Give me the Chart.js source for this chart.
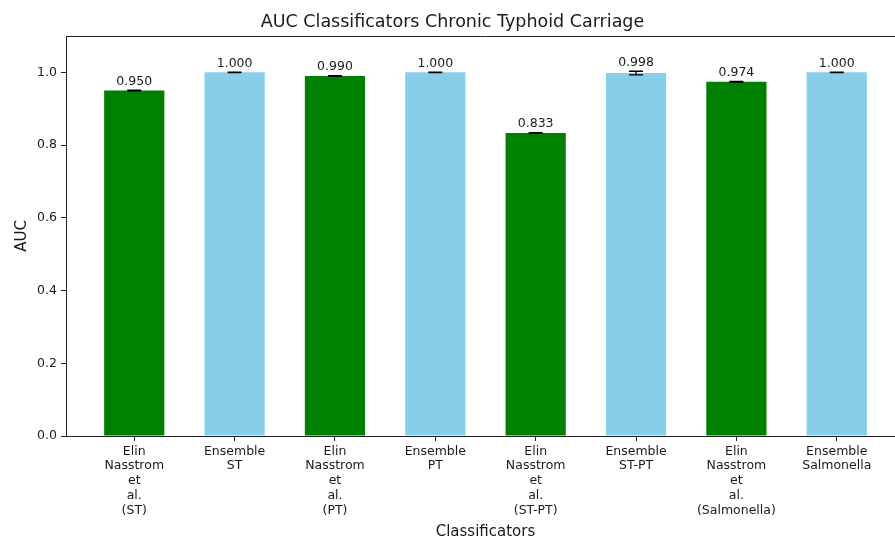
<!DOCTYPE html>
<html>
<head>
<meta charset="utf-8">
<script src="https://cdn.jsdelivr.net/npm/chart.js@4.4.1/dist/chart.umd.min.js"></script>
<style>
  html, body { margin: 0; padding: 0; background: #fff; overflow: hidden; }
  #wrap { width: 910px; height: 538px; position: relative; }
</style>
</head>
<body>
<div id="wrap"><canvas id="c"></canvas></div>
<script>
// Classifier names (multi-line tick labels)
const categories = [
  ["Elin", "Nasstrom", "et", "al.", "(ST)"],
  ["Ensemble", "ST"],
  ["Elin", "Nasstrom", "et", "al.", "(PT)"],
  ["Ensemble", "PT"],
  ["Elin", "Nasstrom", "et", "al.", "(ST-PT)"],
  ["Ensemble", "ST-PT"],
  ["Elin", "Nasstrom", "et", "al.", "(Salmonella)"],
  ["Ensemble", "Salmonella"]
];
// Mean AUC per classifier
const aucValues = [0.950, 1.000, 0.990, 1.000, 0.833, 0.998, 0.974, 1.000];
// Standard deviation of AUC
const aucErrors = [0.001, 0.0005, 0.001, 0.0005, 0.001, 0.005, 0.001, 0.0005];
// Y axis tick values
const yTicks = [0.0, 0.2, 0.4, 0.6, 0.8, 1.0];

const GREEN = '#008000';
const SKY = '#87CEEB';
const FONT = 'DejaVu Sans';
const INK = '#1a1a1a';

const barColors = aucValues.map((_, i) => (i % 2 === 0 ? GREEN : SKY));

// Error bars with caps plus value labels above each bar
const errorBarPlugin = {
  id: 'errorBars',
  afterDatasetsDraw(chart) {
    const { ctx, scales: { x, y } } = chart;
    ctx.save();
    ctx.strokeStyle = '#000';
    ctx.lineWidth = 1.3;
    aucValues.forEach((v, i) => {
      const px = x.getPixelForValue(i);
      const yHi = y.getPixelForValue(v + aucErrors[i]);
      const yLo = y.getPixelForValue(v - aucErrors[i]);
      ctx.beginPath();
      ctx.moveTo(px, yHi); ctx.lineTo(px, yLo);
      ctx.moveTo(px - 7, yHi); ctx.lineTo(px + 7, yHi);
      ctx.moveTo(px - 7, yLo); ctx.lineTo(px + 7, yLo);
      ctx.stroke();
      ctx.fillStyle = INK;
      ctx.font = '12.5px "' + FONT + '"';
      ctx.textAlign = 'center';
      ctx.textBaseline = 'alphabetic';
      ctx.fillText(v.toFixed(3), px, yHi - 5.5);
    });
    ctx.restore();
  }
};

// Top frame line of the plot area
const topSpinePlugin = {
  id: 'topSpine',
  afterDraw(chart) {
    const { ctx, chartArea } = chart;
    ctx.save();
    ctx.strokeStyle = '#222';
    ctx.lineWidth = 1;
    ctx.beginPath();
    ctx.moveTo(chartArea.left, Math.round(chartArea.top) + 0.5);
    ctx.lineTo(chartArea.right, Math.round(chartArea.top) + 0.5);
    ctx.stroke();
    ctx.restore();
  }
};

new Chart(document.getElementById('c'), {
  type: 'bar',
  data: {
    datasets: [{
      data: aucValues.map((v, i) => ({ x: i, y: v })),
      backgroundColor: barColors,
      borderWidth: 0,
      barPercentage: 0.6,
      categoryPercentage: 1.0
    }]
  },
  options: {
    responsive: true,
    maintainAspectRatio: false,
    devicePixelRatio: 1,
    animation: false,
    layout: { padding: { left: 0, right: 5, top: 0, bottom: 0 } },
    plugins: {
      legend: { display: false },
      tooltip: { enabled: false },
      title: {
        display: true,
        text: 'AUC Classificators Chronic Typhoid Carriage',
        color: INK,
        font: { family: FONT, size: 17.5, weight: 'normal', lineHeight: 1.2 },
        padding: { top: 12, bottom: 3 }
      }
    },
    scales: {
      x: {
        type: 'linear',
        offset: false,
        min: -0.68,
        max: 7.68,
        afterBuildTicks: s => { s.ticks = categories.map((_, i) => ({ value: i })); },
        afterFit: s => { s.height = 102; },
        ticks: {
          autoSkip: false,
          maxRotation: 0,
          color: INK,
          padding: 3,
          font: { family: FONT, size: 12.5, lineHeight: 1.18 },
          callback: v => categories[v] || ''
        },
        grid: { display: true, offset: false, drawOnChartArea: false, drawTicks: true, tickLength: 5, color: '#222', tickWidth: 1 },
        border: { display: true, color: '#222', width: 1 },
        title: {
          display: true,
          text: 'Classificators',
          color: INK,
          font: { family: FONT, size: 15, lineHeight: 0.8 },
          padding: { top: 0, bottom: 0 }
        }
      },
      y: {
        min: 0,
        max: 1.1,
        afterBuildTicks: s => { s.ticks = yTicks.map(v => ({ value: v })); },
        afterFit: s => { s.width = 66; },
        ticks: {
          color: INK,
          padding: 4,
          font: { family: FONT, size: 12.5 },
          callback: v => Number(v).toFixed(1)
        },
        grid: { display: true, drawOnChartArea: false, drawTicks: true, tickLength: 5, color: '#222', tickWidth: 1 },
        border: { display: true, color: '#222', width: 1 },
        title: {
          display: true,
          text: 'AUC',
          color: INK,
          font: { family: FONT, size: 15, lineHeight: 1.2 },
          padding: { top: 13, bottom: 13 }
        }
      }
    }
  },
  plugins: [errorBarPlugin, topSpinePlugin]
});
</script>
</body>
</html>
